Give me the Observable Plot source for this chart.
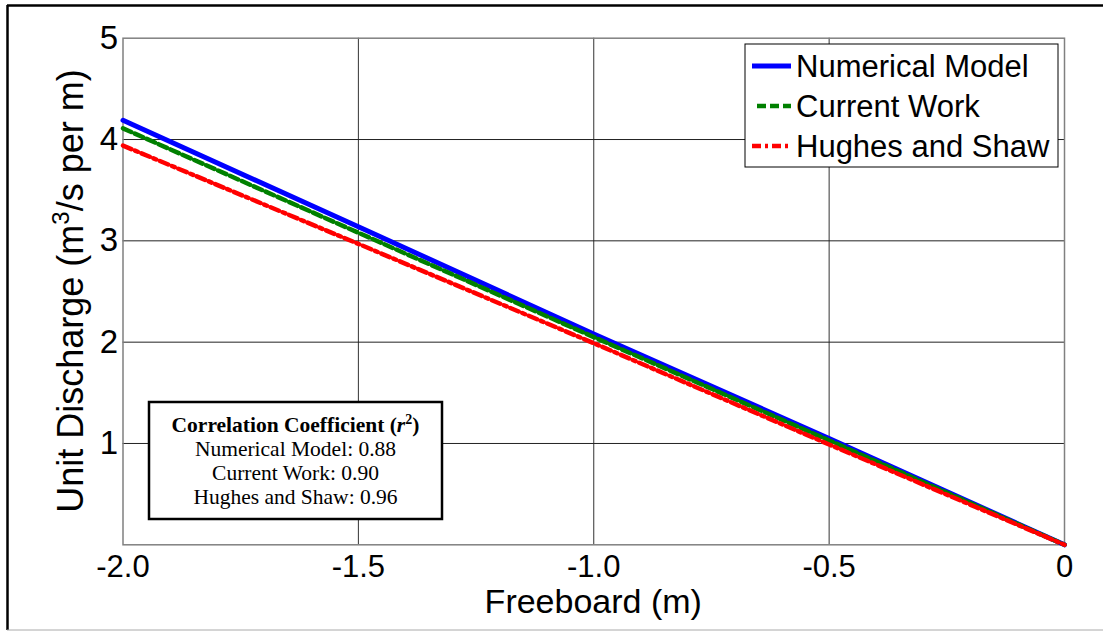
<!DOCTYPE html>
<html>
<head>
<meta charset="utf-8">
<script src="https://cdn.jsdelivr.net/npm/d3@7"></script>
<script src="https://cdn.jsdelivr.net/npm/@observablehq/plot@0.6"></script>
<style>
  html, body { margin: 0; padding: 0; background: white; }
  #chart svg { display: block; }
</style>
</head>
<body>
<div id="chart"></div>
<script>
// ---- data ----
const freeboard = [-2.0, -1.5, -1.0, -0.5, 0];
const numericalModel = [4.19, 3.14, 2.08, 1.05, 0];
const currentWork = [4.11, 3.08, 2.05, 1.03, 0];
const hughesShaw = [3.94, 2.97, 1.99, 0.99, 0];
const seriesNames = ["Numerical Model", "Current Work", "Hughes and Shaw"];
const seriesColors = ["#0000FF", "#008000", "#FF0000"];
const seriesWidths = [5, 4.5, 4.5];
const seriesDash = [null, "9,4", "9,4,3,4"];
const xTicks = [-2.0, -1.5, -1.0, -0.5, 0];
const yTicks = [1, 2, 3, 4, 5];
const r2Labels = ["Numerical Model: 0.88", "Current Work: 0.90", "Hughes and Shaw: 0.96"];

const seriesValues = [numericalModel, currentWork, hughesShaw];
const tables = seriesValues.map((vals, i) =>
  freeboard.map((x, j) => ({x, y: vals[j], series: seriesNames[i]})));

const fmtX = d => d === 0 ? "0" : d.toFixed(1);
const fmtY = d => String(d);

const W = 1107, H = 631;
const mL = 122.5, mR = 43, mT = 37.7, mB = 86.7;

const chart = Plot.plot({
  width: W, height: H,
  marginLeft: mL, marginRight: mR, marginTop: mT, marginBottom: mB,
  style: {fontFamily: "'Liberation Sans', Arial, sans-serif", background: "white", color: "black"},
  x: {domain: [-2, 0], label: null},
  y: {domain: [0, 5], label: null},
  marks: [
    Plot.gridX(xTicks.slice(1, -1), {stroke: "#333", strokeOpacity: 1, strokeWidth: 1}),
    Plot.gridY(yTicks.slice(0, -1), {stroke: "#222", strokeOpacity: 1, strokeWidth: 1}),
    Plot.frame({stroke: "#808080", strokeWidth: 1.5}),
    Plot.axisX(xTicks, {tickSize: 0, tickPadding: 10, fontSize: 31, tickFormat: fmtX, label: null}),
    Plot.axisY(yTicks, {tickSize: 0, tickPadding: 5, fontSize: 33, tickFormat: fmtY, label: null}),
    ...tables.map((t, i) => Plot.line(t, {
      x: "x", y: "y",
      stroke: seriesColors[i],
      strokeWidth: seriesWidths[i],
      strokeDasharray: seriesDash[i] || undefined
    }))
  ]
});

document.getElementById("chart").appendChild(chart);

const svg = d3.select(chart);
const sans = "'Liberation Sans', Arial, sans-serif";
const serif = "'Liberation Serif', 'Times New Roman', serif";

// outer frame
const frameG = svg.append("g");
frameG.append("line").attr("x1", 7).attr("x2", 1103).attr("y1", 5.5).attr("y2", 5.5).attr("stroke", "black").attr("stroke-width", 2.5);
frameG.append("line").attr("x1", 7.5).attr("x2", 7.5).attr("y1", 5).attr("y2", 630).attr("stroke", "black").attr("stroke-width", 2.5);
frameG.append("line").attr("x1", 7).attr("x2", 1103).attr("y1", 630).attr("y2", 630).attr("stroke", "#aaa").attr("stroke-width", 1);

// axis labels
svg.append("text")
  .attr("x", (mL + W - mR) / 2).attr("y", 613)
  .attr("text-anchor", "middle")
  .attr("font-family", sans).attr("font-size", 34)
  .attr("fill", "black")
  .text("Freeboard (m)");

const yl = svg.append("text")
  .attr("transform", `translate(83,${(mT + H - mB) / 2}) rotate(-90)`)
  .attr("text-anchor", "middle")
  .attr("font-family", sans).attr("font-size", 36)
  .attr("fill", "black");
yl.append("tspan").text("Unit Discharge (m");
yl.append("tspan").attr("dy", -14).attr("font-size", 24).text("3");
yl.append("tspan").attr("dy", 14).text("/s per m)");

// legend
const lg = svg.append("g");
lg.append("rect").attr("x", 745).attr("y", 44).attr("width", 313).attr("height", 123)
  .attr("fill", "white").attr("stroke", "black").attr("stroke-width", 1);
const rowY = [66, 106, 146];
seriesNames.forEach((name, i) => {
  lg.append("line")
    .attr("x1", i === 1 ? 757 : 752).attr("x2", 791)
    .attr("y1", rowY[i]).attr("y2", rowY[i])
    .attr("stroke", seriesColors[i]).attr("stroke-width", seriesWidths[i])
    .attr("stroke-dasharray", seriesDash[i]);
  lg.append("text")
    .attr("x", 796).attr("y", rowY[i]).attr("dy", "0.36em")
    .attr("text-anchor", "start")
    .attr("font-family", sans).attr("font-size", 31).attr("fill", "black")
    .text(name);
});

// correlation coefficient box
const cb = svg.append("g");
cb.append("rect").attr("x", 149).attr("y", 402).attr("width", 293).attr("height", 117)
  .attr("fill", "white").attr("stroke", "black").attr("stroke-width", 2.5);
const cx = 295.5;
const title = cb.append("text")
  .attr("x", cx).attr("y", 432).attr("text-anchor", "middle")
  .attr("font-family", serif).attr("font-size", 21.5).attr("font-weight", "bold").attr("fill", "black");
title.append("tspan").text("Correlation Coefficient (");
title.append("tspan").attr("font-style", "italic").text("r");
title.append("tspan").attr("dy", -8).attr("font-size", 14).text("2");
title.append("tspan").attr("dy", 8).text(")");
const baselines = [456, 480, 504];
r2Labels.forEach((t, i) => {
  cb.append("text")
    .attr("x", cx).attr("y", baselines[i]).attr("text-anchor", "middle")
    .attr("font-family", serif).attr("font-size", 21.5).attr("fill", "black")
    .text(t);
});
</script>
</body>
</html>
